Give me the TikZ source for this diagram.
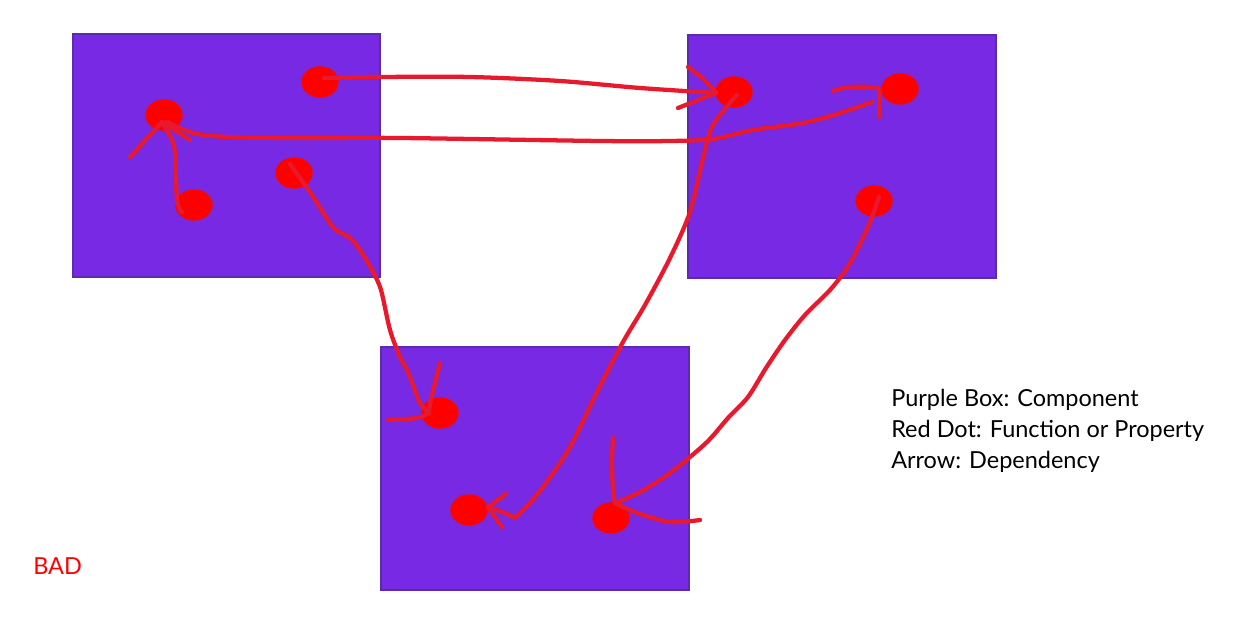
\documentclass[tikz,border=0pt]{standalone}
\usepackage{fontspec}
\setmainfont{Lato}
\usetikzlibrary{shapes.geometric,calc}
\definecolor{boxfill}{HTML}{7729E3}
\definecolor{boxline}{HTML}{5A2AB0}
\definecolor{dotfill}{HTML}{FF0000}
\definecolor{dotline}{HTML}{8A2BB0}
\definecolor{wirecol}{HTML}{E8192C}
\tikzset{
  comp/.style={fill=boxfill, draw=boxline, line width=0.8pt},
  fdot/.style={ellipse, fill=dotfill, draw=dotline, line width=0.5pt, minimum width=28.5pt, minimum height=24pt, inner sep=0pt},
  wire/.style={draw=wirecol, line width=3.2pt, line cap=round, line join=round},
  legend/.style={font=\fontsize{17.6}{23.25}\selectfont, align=left, inner sep=0pt, anchor=base west}
}
\begin{document}
\begin{tikzpicture}[x=0.75pt,y=-0.75pt]
\useasboundingbox (0,0) rectangle (1251,630);
% components
\path[comp] (73,34) rectangle (380,277);
\path[comp] (688,35) rectangle (996,278);
\path[comp] (381,347) rectangle (689,590);
% dots
\node[fdot] (A1) at (320,82) {};
\node[fdot] (A2) at (164,115) {};
\node[fdot] (A3) at (194,205) {};
\node[fdot] (A4) at (294,173) {};
\node[fdot] (B1) at (734,92) {};
\node[fdot] (B2) at (900,89) {};
\node[fdot] (B3) at (874,201) {};
\node[fdot] (C1) at (440,413) {};
\node[fdot] (C2) at (469,510) {};
\node[fdot] (C3) at (611,518) {};
% tips
\coordinate (t1) at ($(B1.center)+(-18,1)$);
\coordinate (t2) at ($(B2.center)+(-21,6)$);
\coordinate (t3) at ($(A2.center)+(-2,7)$);
\coordinate (t4) at ($(C1.center)+(-11,0)$);
\coordinate (t5) at ($(C2.center)+(19,-3)$);
\coordinate (t6) at ($(C3.center)+(4,-15)$);
% 1: A1 -> B1
\draw[wire] plot[smooth, tension=0.5] coordinates {($(A1.center)+(4,-4)$) (380,77) (470,77) (560,81) (640,88) (t1)};
\draw[wire] (t1) .. controls (705,80) .. (688,67);
\draw[wire] (t1) -- (678,108);
% 2: A2 -> B2
\draw[wire] plot[smooth, tension=0.5] coordinates {($(A2.center)+(3,7)$) (193,133) (227,137) (293,138) (400,138) (600,141) (670,141) (713,139) (753,130) (803,123) (837,114) (872,102)};
\draw[wire] plot[smooth, tension=0.6] coordinates {(t2) (877,88) (850,87) (833,91)};
\draw[wire] (t2) -- (879,117);
% 3: A3 -> A2
\draw[wire] plot[smooth, tension=0.5] coordinates {($(A3.center)+(-12,7)$) (177,200) (175,153) (172,140) (t3)};
\draw[wire] (t3) -- (130,157);
\draw[wire] (t3) -- (190,140);
% 4: A4 -> C1
\draw[wire] plot[smooth, tension=0.5] coordinates {($(A4.center)+(-4,-9)$) (310,192) (333,227) (350,238) (362,253) (373,272) (381,290) (390,330) (400,357) (408,372) (414,388) (420,403) (t4)};
\draw[wire] plot[smooth, tension=0.5] coordinates {(440,363) (435,383) (430,403) (t4)};
\draw[wire] plot[smooth, tension=0.5] coordinates {(388,420) (417,418) (t4)};
% 5: B1 -> C2
\draw[wire] plot[smooth, tension=0.5] coordinates {($(B1.center)+(3,3)$) (713,125) (703,158) (690,212) (670,258) (645,305) (623,342) (597,392) (570,447) (543,487) (525,508) (515,517) (505,513) (t5)};
\draw[wire] (t5) -- (506,494);
\draw[wire] (t5) -- (502,527);
% 6: B3 -> C3
\draw[wire] plot[smooth, tension=0.5] coordinates {($(B3.center)+(5,-4)$) (870,222) (858,248) (847,268) (830,290) (805,315) (785,340) (766,368) (748,397) (728,418) (706,443) (670,473) (640,492) (t6)};
\draw[wire] plot[smooth, tension=0.5] coordinates {(613,438) (612,462) (613,490) (t6)};
\draw[wire] plot[smooth, tension=0.5] coordinates {(700,520) (670,522) (637,513) (t6)};
% legend (base anchor is the last line)
\node[legend] (leg) at (891,468) {Purple Box: Component\\Red Dot: Function or Property\\Arrow: Dependency};
\node[legend, text=dotfill] (bad) at (33,574) {BAD};
\end{tikzpicture}
\end{document}
